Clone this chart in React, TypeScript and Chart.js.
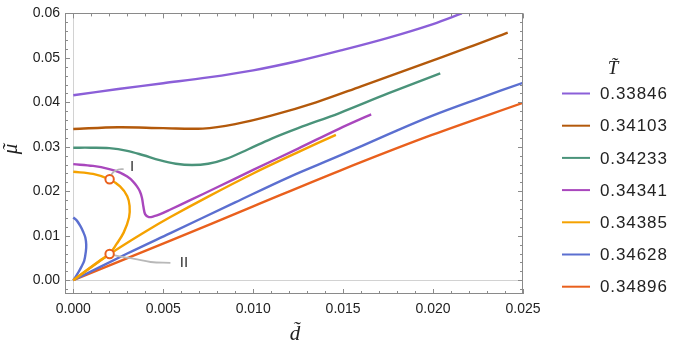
import React, { useEffect, useRef } from 'react';
import { Chart, registerables } from 'chart.js';

Chart.register(...registerables);

// ---- Data ----
const T_LABELS = ['0.33846', '0.34103', '0.34233', '0.34341', '0.34385', '0.34628', '0.34896'];
const T_COLORS = ['#8b5fd8', '#b3590b', '#4a937a', '#a947bd', '#f5a200', '#5b6fd0', '#e9601d'];

const D_33846 = [0, 0.0025, 0.005, 0.0075, 0.01, 0.0125, 0.015, 0.0175, 0.02, 0.0216];
const MU_33846 = [0.0416, 0.043, 0.0443, 0.0456, 0.0472, 0.0493, 0.0518, 0.0545, 0.0576, 0.06];

const D_34103 = [0, 0.0025, 0.005, 0.0072, 0.009, 0.011, 0.0135, 0.016, 0.019, 0.022, 0.02415];
const MU_34103 = [0.034, 0.0344, 0.0342, 0.0341, 0.0351, 0.037, 0.04, 0.0436, 0.048, 0.0524, 0.0557];

const D_34233 = [0, 0.001, 0.002, 0.003, 0.0039, 0.0048, 0.0057, 0.0066, 0.0075, 0.0085, 0.0097, 0.011, 0.0125, 0.0148, 0.0175, 0.0204];
const MU_34233 = [0.0298, 0.0298, 0.0297, 0.0291, 0.0281, 0.027, 0.0262, 0.0259, 0.0262, 0.0273, 0.0294, 0.0318, 0.0342, 0.0376, 0.042, 0.0465];

const D_34341 = [0, 0.0011, 0.002, 0.0026, 0.003, 0.0033, 0.00354, 0.0037, 0.00382, 0.0039, 0.004, 0.0042, 0.0045, 0.0048, 0.0054, 0.0065, 0.008, 0.01, 0.0125, 0.0148, 0.01656];
const MU_34341 = [0.0261, 0.0257, 0.025, 0.0242, 0.0233, 0.0223, 0.0211, 0.02, 0.0185, 0.0165, 0.0148, 0.0142, 0.0144, 0.0148, 0.0159, 0.018, 0.0209, 0.0248, 0.0296, 0.0341, 0.0373];

const D_34385_LOOP = [0, 0.0011, 0.002, 0.0026, 0.003, 0.00313, 0.0031, 0.0028, 0.0024, 0.002, 0.0015, 0.0011, 0.0005, 0];
const MU_34385_LOOP = [0.0244, 0.0239, 0.0227, 0.0211, 0.0189, 0.0167, 0.0141, 0.0107, 0.0081, 0.0059, 0.0045, 0.0033, 0.0015, 0];
const D_34385_BRANCH = [0, 0.002, 0.004, 0.0054, 0.0075, 0.01, 0.0125, 0.0146];
const MU_34385_BRANCH = [0, 0.0058, 0.0109, 0.0142, 0.0188, 0.024, 0.0288, 0.0327];

const D_34628_LOOP = [0, 0.0002, 0.00039, 0.00055, 0.00067, 0.00072, 0.0007, 0.00061, 0.00045, 0.0003, 0.00012, 0];
const MU_34628_LOOP = [0.0141, 0.0134, 0.0122, 0.0109, 0.0096, 0.008, 0.0065, 0.0044, 0.003, 0.0019, 0.0007, 0];
const D_34628_BRANCH = [0, 0.003, 0.0054, 0.009, 0.012, 0.0148, 0.0175, 0.0199, 0.0225, 0.025];
const MU_34628_BRANCH = [0, 0.006, 0.0106, 0.0175, 0.0232, 0.028, 0.0328, 0.0369, 0.0408, 0.0444];

const D_34896 = [0, 0.0054, 0.01, 0.0148, 0.0199, 0.025];
const MU_34896 = [0, 0.0089, 0.0166, 0.0246, 0.0326, 0.0399];

const TRANSITION_D = [0.00202, 0.00202];
const TRANSITION_MU = [0.0227, 0.0059];

const GUIDE_I_D = [0.00202, 0.0022, 0.0025, 0.0028];
const GUIDE_I_MU = [0.0227, 0.0242, 0.0249, 0.025];
const GUIDE_II_D = [0.00202, 0.0028, 0.0034, 0.0043, 0.0054];
const GUIDE_II_MU = [0.0058, 0.0052, 0.0048, 0.0041, 0.0039];

const ANNOT_TEXT = ['I', 'II'];
const ANNOT_D = [0.00315, 0.00592];
const ANNOT_MU = [0.0256, 0.0039];

const X_TICKS = [0, 0.005, 0.01, 0.015, 0.02, 0.025];
const Y_TICKS = [0, 0.01, 0.02, 0.03, 0.04, 0.05, 0.06];
const X_MINOR_STEP = 0.001;
const Y_MINOR_STEP = 0.002;
const X_RANGE = [-0.00046, 0.025];
const Y_RANGE = [-0.0031, 0.06];

const X_TITLE = 'd\u0303';
const Y_TITLE_BASE = '\u03bc';
const LEGEND_TITLE = 'T\u0303';

const SANS = '"Liberation Sans", Arial, sans-serif';
const SERIF = '"Liberation Serif", "Times New Roman", serif';

function pts(d: number[], mu: number[]) {
  return d.map((x, i) => ({ x, y: mu[i] }));
}

const CURVES: { t: number; d: number[]; mu: number[] }[] = [
  { t: 0, d: D_33846, mu: MU_33846 },
  { t: 1, d: D_34103, mu: MU_34103 },
  { t: 2, d: D_34233, mu: MU_34233 },
  { t: 3, d: D_34341, mu: MU_34341 },
  { t: 4, d: D_34385_LOOP, mu: MU_34385_LOOP },
  { t: 4, d: D_34385_BRANCH, mu: MU_34385_BRANCH },
  { t: 5, d: D_34628_LOOP, mu: MU_34628_LOOP },
  { t: 5, d: D_34628_BRANCH, mu: MU_34628_BRANCH },
  { t: 6, d: D_34896, mu: MU_34896 },
];

const decorPlugin = {
  id: 'decor',
  beforeDatasetsDraw(chart: any) {
    const { ctx, chartArea, scales } = chart;
    const { left, right, top, bottom } = chartArea;
    const x0 = Math.round(scales.x.getPixelForValue(0)) + 0.5;
    const y0 = Math.round(scales.y.getPixelForValue(0)) + 0.5;
    ctx.save();
    ctx.strokeStyle = '#d2d2d2';
    ctx.lineWidth = 1;
    ctx.beginPath();
    ctx.moveTo(x0, top);
    ctx.lineTo(x0, bottom);
    ctx.moveTo(left, y0);
    ctx.lineTo(right, y0);
    ctx.stroke();
    ctx.restore();
  },
  afterDatasetsDraw(chart: any) {
    const { ctx, chartArea, scales } = chart;
    const { left, right, top, bottom } = chartArea;
    const xs = scales.x;
    const ys = scales.y;
    ctx.save();
    // frame
    ctx.strokeStyle = '#8a8a8a';
    ctx.lineWidth = 1;
    ctx.strokeRect(Math.round(left) + 0.5, Math.round(top) + 0.5, Math.round(right - left) - 1, Math.round(bottom - top) - 1);
    // ticks
    ctx.beginPath();
    const isMajor = (v: number, list: number[]) => list.some((m) => Math.abs(m - v) < 1e-9);
    for (let i = 0; i <= 25; i++) {
      const v = i * X_MINOR_STEP;
      const len = isMajor(v, X_TICKS) ? 5 : 3;
      const px = Math.round(xs.getPixelForValue(v)) + 0.5;
      ctx.moveTo(px, bottom);
      ctx.lineTo(px, bottom - len);
      ctx.moveTo(px, top);
      ctx.lineTo(px, top + len);
    }
    for (let i = -1; i <= 30; i++) {
      const v = i * Y_MINOR_STEP;
      const len = isMajor(v, Y_TICKS) ? 5 : 3;
      const py = Math.round(ys.getPixelForValue(v)) + 0.5;
      ctx.moveTo(left, py);
      ctx.lineTo(left + len, py);
      ctx.moveTo(right, py);
      ctx.lineTo(right - len, py);
    }
    ctx.stroke();

    // annotations I, II
    ctx.fillStyle = '#333';
    ctx.font = `15px ${SANS}`;
    ctx.textAlign = 'left';
    ctx.textBaseline = 'middle';
    ANNOT_TEXT.forEach((t, i) => {
      ctx.fillText(t, xs.getPixelForValue(ANNOT_D[i]), ys.getPixelForValue(ANNOT_MU[i]));
    });

    // axis titles
    ctx.fillStyle = '#222';
    ctx.font = `italic 21px ${SERIF}`;
    ctx.textAlign = 'center';
    ctx.textBaseline = 'alphabetic';
    ctx.fillText(X_TITLE, (left + right) / 2 + 1, 340);
    ctx.save();
    ctx.translate(17, 149);
    ctx.rotate(-Math.PI / 2);
    ctx.fillText(Y_TITLE_BASE, 0, 0);
    ctx.fillText('\u02DC', 1.5, 0);
    ctx.restore();

    // legend
    ctx.font = `italic 19px ${SERIF}`;
    ctx.fillText(LEGEND_TITLE, 613, 74);
    ctx.font = `17px ${SANS}`;
    (ctx as any).letterSpacing = '0.9px';
    ctx.textAlign = 'left';
    ctx.textBaseline = 'middle';
    T_LABELS.forEach((lab, i) => {
      const y = 93.5 + i * 32.2;
      ctx.strokeStyle = T_COLORS[i];
      ctx.lineWidth = 2;
      ctx.beginPath();
      ctx.moveTo(562, y);
      ctx.lineTo(590, y);
      ctx.stroke();
      ctx.fillStyle = '#222';
      ctx.fillText(lab, 600, y + 1);
    });
    (ctx as any).letterSpacing = '0px';
    ctx.restore();
  },
};

export default function App() {
  const ref = useRef<HTMLCanvasElement | null>(null);
  useEffect(() => {
    if (!ref.current) return;
    const datasets: any[] = [];
    CURVES.forEach((c, i) => {
      datasets.push({
        label: T_LABELS[c.t],
        data: pts(c.d, c.mu),
        showLine: true,
        borderColor: T_COLORS[c.t],
        backgroundColor: T_COLORS[c.t],
        borderWidth: 2.4,
        pointRadius: 0,
        tension: 0.35,
        order: 10 + i,
      });
    });
    datasets.push({
      label: 'guide I',
      data: pts(GUIDE_I_D, GUIDE_I_MU),
      showLine: true,
      borderColor: '#b8b8b8',
      borderWidth: 1.8,
      pointRadius: 0,
      tension: 0.4,
      order: 5,
    });
    datasets.push({
      label: 'guide II',
      data: pts(GUIDE_II_D, GUIDE_II_MU),
      showLine: true,
      borderColor: '#b8b8b8',
      borderWidth: 1.8,
      pointRadius: 0,
      tension: 0.4,
      order: 4,
    });
    datasets.push({
      label: 'transitions',
      data: pts(TRANSITION_D, TRANSITION_MU),
      showLine: false,
      pointRadius: 4.2,
      pointBorderWidth: 2,
      borderColor: '#e9601d',
      pointBorderColor: '#e9601d',
      pointBackgroundColor: '#ffffff',
      backgroundColor: '#ffffff',
      order: 0,
    });

    const chart = new Chart(ref.current, {
      type: 'scatter',
      data: { datasets },
      options: {
        animation: false,
        responsive: false,
        devicePixelRatio: 1,
        layout: { padding: { left: 0, right: 158, top: 10, bottom: 0 } },
        plugins: { legend: { display: false }, tooltip: { enabled: false } },
        scales: {
          x: {
            type: 'linear',
            min: X_RANGE[0],
            max: X_RANGE[1],
            grid: { display: false, drawTicks: false },
            border: { display: false },
            afterBuildTicks: (s: any) => {
              s.ticks = X_TICKS.map((v) => ({ value: v }));
            },
            afterFit: (s: any) => {
              s.height = 56;
            },
            ticks: {
              autoSkip: false,
              maxRotation: 0,
              padding: 7,
              color: '#222',
              font: { family: SANS, size: 14 },
              callback: (v: any) => Number(v).toFixed(3),
            },
          },
          y: {
            type: 'linear',
            min: Y_RANGE[0],
            max: Y_RANGE[1],
            grid: { display: false, drawTicks: false },
            border: { display: false },
            afterBuildTicks: (s: any) => {
              s.ticks = Y_TICKS.map((v) => ({ value: v }));
            },
            afterFit: (s: any) => {
              s.width = 65;
            },
            ticks: {
              autoSkip: false,
              padding: 5,
              color: '#222',
              font: { family: SANS, size: 14 },
              callback: (v: any) => Number(v).toFixed(2),
            },
          },
        },
      },
      plugins: [decorPlugin],
    });
    return () => chart.destroy();
  }, []);

  return (
    <div style={{ position: 'fixed', left: 0, top: 0, width: 681, height: 350, background: '#fff' }}>
      <canvas ref={ref} width={681} height={350} style={{ display: 'block', width: 681, height: 350 }} />
    </div>
  );
}
